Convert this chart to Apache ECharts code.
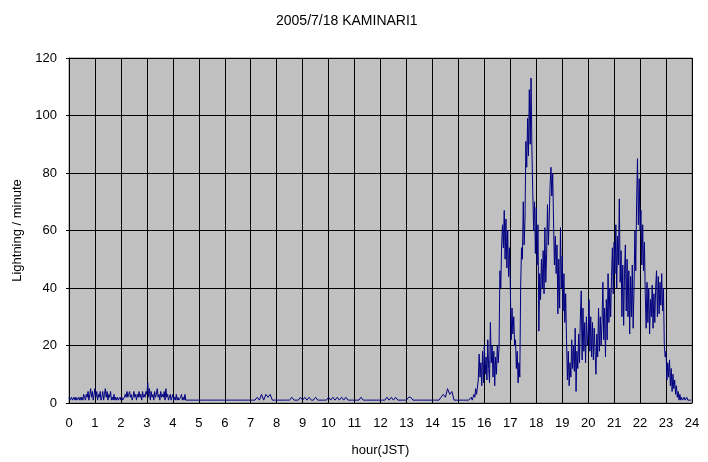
<!DOCTYPE html>
<html>
<head>
<meta charset="utf-8">
<script src="https://cdn.jsdelivr.net/npm/echarts@6/dist/echarts.min.js"></script>
<style>html,body{margin:0;padding:0;background:#fff;}#c{width:708px;height:462px;}</style>
</head>
<body>
<div id="c"></div>
<script>
// lightning strokes per minute
const titleText = '2005/7/18 KAMINARI1';
const xName = 'hour(JST)';
const yName = 'Lightning / minute';

// 00:00 - 04:58, every 2 minutes (30 per hour)
const earlyStart = 0, earlyStep = 2;
const earlyHours = [
  2,1,1,2,1,1,2,1,2,1,1,2,1,2,1, 2,1,3,2,1,3,2,4,1,3,5,2,4,1,3,
  5,2,4,1,3,2,4,1,2,4,1,3,5,2,4, 1,3,2,4,1,2,1,3,1,2,1,2,1,1,2,
  1,2,1,1,2,3,2,4,2,3,4,2,3,1,2, 4,2,3,1,3,2,4,2,3,1,4,2,3,2,4,
  3,7,2,5,1,4,2,3,1,4,2,3,5,2,3, 1,4,2,3,2,4,1,5,2,3,1,2,3,1,2,
  3,1,2,1,3,1,2,1,1,2,3,1,2,1,3, 1,1,1,1,1,1,1,1,1,1,1,1,1,1,1
];
// 05:00 - 14:55, every 5 minutes (12 per hour)
const quietStart = 5, quietStep = 5;
const quietHours = [
  1,1,1,1,1,1,1,1,1,1,1,1,
  1,1,1,1,1,1,1,1,1,1,1,1,
  1,1,1,2,1,3,1,3,2,3,1,1,
  1,1,1,1,1,1,1,2,1,1,1,2,
  1,2,1,2,1,1,2,1,1,1,1,1,
  2,1,2,1,2,1,2,1,2,1,1,1,
  1,1,1,2,1,1,1,1,1,1,1,1,
  1,1,1,2,1,2,1,2,1,1,1,1,
  1,2,2,1,1,1,1,1,1,1,1,1,
  1,1,1,1,2,3,2,5,3,4,1,1
];
// 15:00 - 23:58, every 2 minutes (30 per hour)
const stormStart = 15, stormStep = 2;
const stormHours = [
  1,1,1,1,1,1,1,1,1,1,1,1,1,1,1, 2,1,2,3,2,5,3,3,8,17,9,14,6,18,7,
  20,10,16,8,22,12,7,28,14,20,9,18,6,16,10,20, 14,19, 46,40,55,62,54,67,50,64,47,60,44,54,
  41,22,33,24,30,20,22,12,18,7,14,9,41,54,50, 70,55,64,91,82,99,86,109,90,113,88,73,60,70,52,
  68,48,62,25,45,36,50,40,53,38,61,42,52,69,55, 64,76,82,72,80,63,48,58,45,55,31,50,33,61,40,
  51,32,45,28,38,22,8,18,6,14,9,22,12,20,11, 26,4,18,12,24,14,30,39,15,33,18,28,14,30,20,
  24,36,18,30,16,28,15,26,18,10,24,16,33,18,30, 20,28,42,22,33,16,36,22,45,28,40,30,44,54,38,
  56,45,62,40,58,48,71,42,53,30,48,27,45,55,32, 50,30,46,24,44,30,48,26,40,60,46,70,85,62,78,
  60,67,48,62,46,56,38,26,42,28,40,24,36,30,41, 26,38,28,40,46,30,44,31,42,34,45,32,40,20,16,
  18,8,14,9,15,6,12,4,10,5,8,3,6,2,4, 1,3,1,2,1,1,2,1,1,2,1,1,1,1,1
];

function toPoints(start, step, values) {
  return values.map((v, i) => [start + i * step / 60, v]);
}
const seriesData = toPoints(earlyStart, earlyStep, earlyHours)
  .concat(toPoints(quietStart, quietStep, quietHours))
  .concat(toPoints(stormStart, stormStep, stormHours));

const font = 'Liberation Sans';
const chart = echarts.init(document.getElementById('c'), null, {renderer: 'canvas'});
chart.setOption({
  animation: false,
  backgroundColor: '#ffffff',
  title: {
    text: titleText,
    left: 271,
    top: 9,
    textStyle: {fontFamily: font, fontSize: 14, fontWeight: 'normal', color: '#000'}
  },
  grid: {
    left: 69, right: 16, top: 58, bottom: 59,
    show: true,
    backgroundColor: '#C0C0C0',
    borderColor: '#808080',
    borderWidth: 1
  },
  xAxis: {
    type: 'value',
    min: 0, max: 24, interval: 1,
    name: xName,
    nameLocation: 'middle',
    nameGap: 41,
    nameTextStyle: {fontFamily: font, fontSize: 13, color: '#000'},
    axisLine: {show: true, onZero: false, lineStyle: {color: '#000', width: 1}},
    axisTick: {show: false},
    axisLabel: {margin: 14, fontFamily: font, fontSize: 13, color: '#000'},
    splitLine: {show: true, lineStyle: {color: '#000', width: 1}}
  },
  yAxis: {
    type: 'value',
    min: 0, max: 120, interval: 20,
    name: yName,
    nameLocation: 'middle',
    nameGap: 38,
    nameTextStyle: {fontFamily: font, fontSize: 13, color: '#000'},
    axisLine: {show: true, lineStyle: {color: '#000', width: 1}},
    axisTick: {show: true, length: 3, lineStyle: {color: '#000'}},
    axisLabel: {margin: 12, fontFamily: font, fontSize: 13, color: '#000'},
    splitLine: {show: true, lineStyle: {color: '#000', width: 1}}
  },
  series: [{
    type: 'line',
    data: seriesData,
    showSymbol: false,
    symbol: 'none',
    lineStyle: {color: '#000080', width: 1},
    itemStyle: {color: '#000080'}
  }]
});
</script>
</body>
</html>
